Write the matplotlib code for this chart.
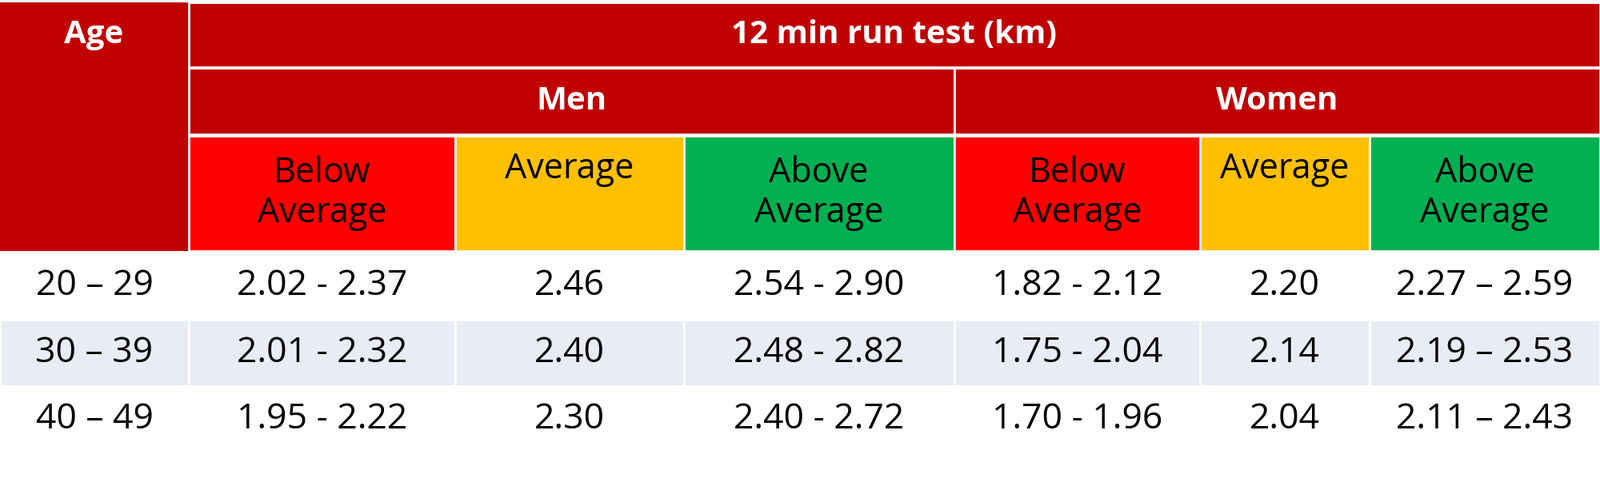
import matplotlib.pyplot as plt
from matplotlib.patches import Rectangle

plt.rcParams["font.family"] = "Open Sans"

ages = ["20 – 29", "30 – 39", "40 – 49"]
men_below = ["2.02 - 2.37", "2.01 - 2.32", "1.95 - 2.22"]
men_avg = ["2.46", "2.40", "2.30"]
men_above = ["2.54 - 2.90", "2.48 - 2.82", "2.40 - 2.72"]
women_below = ["1.82 - 2.12", "1.75 - 2.04", "1.70 - 1.96"]
women_avg = ["2.20", "2.14", "2.04"]
women_above = ["2.27 – 2.59", "2.19 – 2.53", "2.11 – 2.43"]
categories = ["Below\nAverage", "Average", "Above\nAverage"]

DARK = "#C00000"
cat_colors = ["#FF0000", "#FFC000", "#00B050"]

# column edges (layout, image-pixel units)
col_x = [0, 185, 446, 670, 935, 1176, 1342, 1568]
row_y = [248, 314, 379, 445]

fig = plt.figure(figsize=(20, 6.08), dpi=100)
ax = fig.add_axes([0, 0, 1, 1])
ax.set_xlim(0, 1568)
ax.set_ylim(477, 0)
ax.axis("off")

def cell(x0, x1, y0, y1, color, text="", tc="black", bold=False, size=32, ty=None):
    ax.add_patch(Rectangle((x0, y0), x1 - x0, y1 - y0, facecolor=color,
                           edgecolor="white", linewidth=2))
    if text:
        ax.text((x0 + x1) / 2, (y0 + y1) / 2 if ty is None else ty, text,
                ha="center", va="center", color=tc, fontsize=size,
                fontweight="bold" if bold else "normal", linespacing=1.15)

# header
ax.add_patch(Rectangle((0, 2), 185, 244, facecolor=DARK, edgecolor="none"))
ax.text(92, 34, "Age", ha="center", va="center", color="white",
        fontsize=29, fontweight="bold")
cell(185, 1568, 2, 66, DARK, "12 min run test (km)", "white", True, 29)
cell(185, 935, 67, 132, DARK, "Men", "white", True, 29)
cell(935, 1568, 67, 132, DARK, "Women", "white", True, 29)
for i in range(6):
    label = categories[i % 3]
    ty = None if "\n" in label else 166
    cell(col_x[i + 1], col_x[i + 2], 133, 246, cat_colors[i % 3], label, size=31, ty=ty)

# body
cols = [ages, men_below, men_avg, men_above, women_below, women_avg, women_above]
for r in range(3):
    bg = "#E9EBF5" if r == 1 else "white"
    for c, values in enumerate(cols):
        cell(col_x[c], col_x[c + 1], row_y[r], row_y[r + 1], bg, values[r], size=32)

fig.savefig("out.png", dpi=100, facecolor="white")
